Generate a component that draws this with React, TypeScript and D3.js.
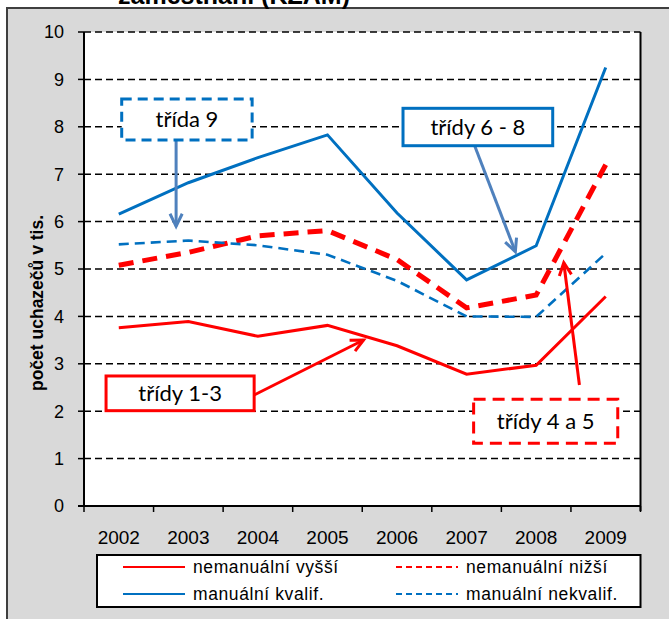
import React from "react";
import * as d3 from "d3";

const years = ["2002", "2003", "2004", "2005", "2006", "2007", "2008", "2009"];
const nemanualniVyssi = [3.76, 3.89, 3.58, 3.81, 3.38, 2.78, 2.97, 4.42];
const nemanualniNizsi = [5.08, 5.35, 5.7, 5.81, 5.2, 4.18, 4.45, 7.2];
const manualniKvalif = [6.16, 6.82, 7.35, 7.83, 6.18, 4.77, 5.49, 9.25];
const manualniNekvalif = [5.52, 5.6, 5.5, 5.3, 4.75, 4.0, 3.99, 5.33];
const yTicks = [0, 1, 2, 3, 4, 5, 6, 7, 8, 9, 10];

const RED = "#FF0000";
const BLUE = "#0070C0";
const ARROW_BLUE = "#4F81BD";

const series = [
  { name: "nemanuální vyšší", values: nemanualniVyssi, color: RED, width: 3, dash: "" },
  { name: "nemanuální nižší", values: nemanualniNizsi, color: RED, width: 5, dash: "15,9" },
  { name: "manuální kvalif.", values: manualniKvalif, color: BLUE, width: 3, dash: "" },
  { name: "manuální nekvalif.", values: manualniNekvalif, color: BLUE, width: 2.6, dash: "10,6" },
];

// annotations in data space (u = category units from left edge, v = value)
const annotations = [
  { text: "třída 9", box: [0.542, 2.417, 8.586, 7.722], color: BLUE, dash: "10,6", arrow: [1.324, 7.722, 1.324, 5.9], arrowColor: ARROW_BLUE },
  { text: "třídy 6 - 8", box: [4.586, 6.738, 8.39, 7.601], color: BLUE, dash: "", arrow: [5.616, 7.601, 6.201, 5.365], arrowColor: ARROW_BLUE },
  { text: "třídy 1-3", box: [0.317, 2.446, 2.743, 2.011], color: RED, dash: "", arrow: [2.446, 2.342, 4.019, 3.502], arrowColor: RED },
  { text: "třídy 4 a 5", box: [5.601, 7.673, 2.251, 1.323], color: RED, dash: "12,7", arrow: [7.122, 2.553, 6.897, 5.133], arrowColor: RED },
];

const L = 84, R = 640.5, T = 32, B = 506;

export default function App() {
  const x = d3.scaleBand<string>().domain(years).range([L, R]).paddingInner(0).paddingOuter(0);
  const u = d3.scaleLinear().domain([0, years.length]).range([L, R]);
  const y = d3.scaleLinear().domain([0, 10]).range([B, T]);
  const cx = (yr: string) => (x(yr) as number) + x.bandwidth() / 2;
  const line = d3
    .line<number>()
    .x((_, i) => cx(years[i]))
    .y((d) => y(d));

  const arrowHead = (x1: number, y1: number, x2: number, y2: number) => {
    const ang = Math.atan2(y2 - y1, x2 - x1);
    const len = 14, spread = 0.45;
    const p1 = [x2 - len * Math.cos(ang - spread), y2 - len * Math.sin(ang - spread)];
    const p2 = [x2 - len * Math.cos(ang + spread), y2 - len * Math.sin(ang + spread)];
    return `M${p1[0]},${p1[1]}L${x2},${y2}L${p2[0]},${p2[1]}`;
  };

  const boundaries = d3.range(years.length + 1).map((i) => u(i));
  const font = "Liberation Sans, Arial, sans-serif";
  const annFont = "Lato, Open Sans, sans-serif";

  return (
    <div style={{ position: "absolute", left: 0, top: 0 }}>
      <svg width={669} height={619} style={{ display: "block", background: "#fff" }}>
        <rect x={7} y={8} width={700} height={700} fill="#D9D9D9" stroke="#3F3F3F" strokeWidth={2} />
        <text x={118} y={4} fontFamily={font} fontWeight="bold" fontSize={25} fill="#000">
          zaměstnání (KZAM)
        </text>
        <rect x={L} y={T} width={R - L} height={B - T} fill="#fff" />
        {/* gridlines */}
        {yTicks.filter((t) => t > 0).map((t) => (
          <line key={t} x1={L} x2={R} y1={y(t)} y2={y(t)} stroke="#000" strokeWidth={1.5} strokeDasharray="7,4" />
        ))}
        {/* axes */}
        <line x1={L} x2={L} y1={T} y2={B} stroke="#000" strokeWidth={2} />
        <line x1={R} x2={R} y1={T} y2={B + 5} stroke="#000" strokeWidth={2} />
        <line x1={L - 6} x2={R} y1={B} y2={B} stroke="#000" strokeWidth={2} />
        {yTicks.map((t) => (
          <g key={t}>
            <line x1={L - 6} x2={L} y1={y(t)} y2={y(t)} stroke="#000" strokeWidth={1.5} />
            <text x={64} y={y(t)} dy="0.36em" textAnchor="end" fontFamily={font} fontSize={18} fill="#000">
              {t}
            </text>
          </g>
        ))}
        {boundaries.map((b, i) => (
          <line key={i} x1={b} x2={b} y1={B} y2={B + 6} stroke="#000" strokeWidth={1.5} />
        ))}
        {years.map((yr) => (
          <text key={yr} x={cx(yr)} y={544} textAnchor="middle" fontFamily={font} fontSize={19} fill="#000">
            {yr}
          </text>
        ))}
        <text
          transform={`translate(43,303) rotate(-90)`}
          textAnchor="middle"
          fontFamily={font}
          fontWeight="bold"
          fontSize={17.5}
          fill="#000"
        >
          počet uchazečů v tis.
        </text>
        {/* series */}
        {series.map((s) => (
          <path
            key={s.name}
            d={line(s.values) as string}
            fill="none"
            stroke={s.color}
            strokeWidth={s.width}
            strokeDasharray={s.dash || undefined}
            strokeLinejoin="miter"
          />
        ))}
        {/* annotations */}
        {annotations.map((a) => {
          const bx1 = u(a.box[0]), bx2 = u(a.box[1]), by1 = y(a.box[2]), by2 = y(a.box[3]);
          const ax1 = u(a.arrow[0]), ay1 = y(a.arrow[1]), ax2 = u(a.arrow[2]), ay2 = y(a.arrow[3]);
          return (
            <g key={a.text}>
              <line x1={ax1} y1={ay1} x2={ax2} y2={ay2} stroke={a.arrowColor} strokeWidth={3} />
              <path d={arrowHead(ax1, ay1, ax2, ay2)} fill="none" stroke={a.arrowColor} strokeWidth={3} />
              <rect
                x={bx1}
                y={by1}
                width={bx2 - bx1}
                height={by2 - by1}
                fill="#fff"
                stroke={a.color}
                strokeWidth={3}
                strokeDasharray={a.dash || undefined}
              />
              <text
                x={(bx1 + bx2) / 2}
                y={(by1 + by2) / 2}
                dy="0.35em"
                textAnchor="middle"
                fontFamily={annFont}
                fontSize={22}
                fill="#000"
              >
                {a.text}
              </text>
            </g>
          );
        })}
        {/* legend */}
        <rect x={97} y={555} width={R - 97} height={52} fill="#fff" stroke="#000" strokeWidth={2} />
        {series.map((s, i) => {
          const col = i % 2;
          const row = Math.floor(i / 2);
          const lx = col === 0 ? 123 : 396;
          const ly = 567 + row * 27;
          return (
            <g key={s.name}>
              <line x1={lx} x2={lx + 62} y1={ly} y2={ly} stroke={s.color} strokeWidth={2} strokeDasharray={s.dash ? "6,4" : undefined} />
              <text x={lx + 70} y={ly} dy="0.36em" fontFamily={font} fontSize={17.5} letterSpacing={0.6} fill="#000">
                {s.name}
              </text>
            </g>
          );
        })}
      </svg>
    </div>
  );
}
